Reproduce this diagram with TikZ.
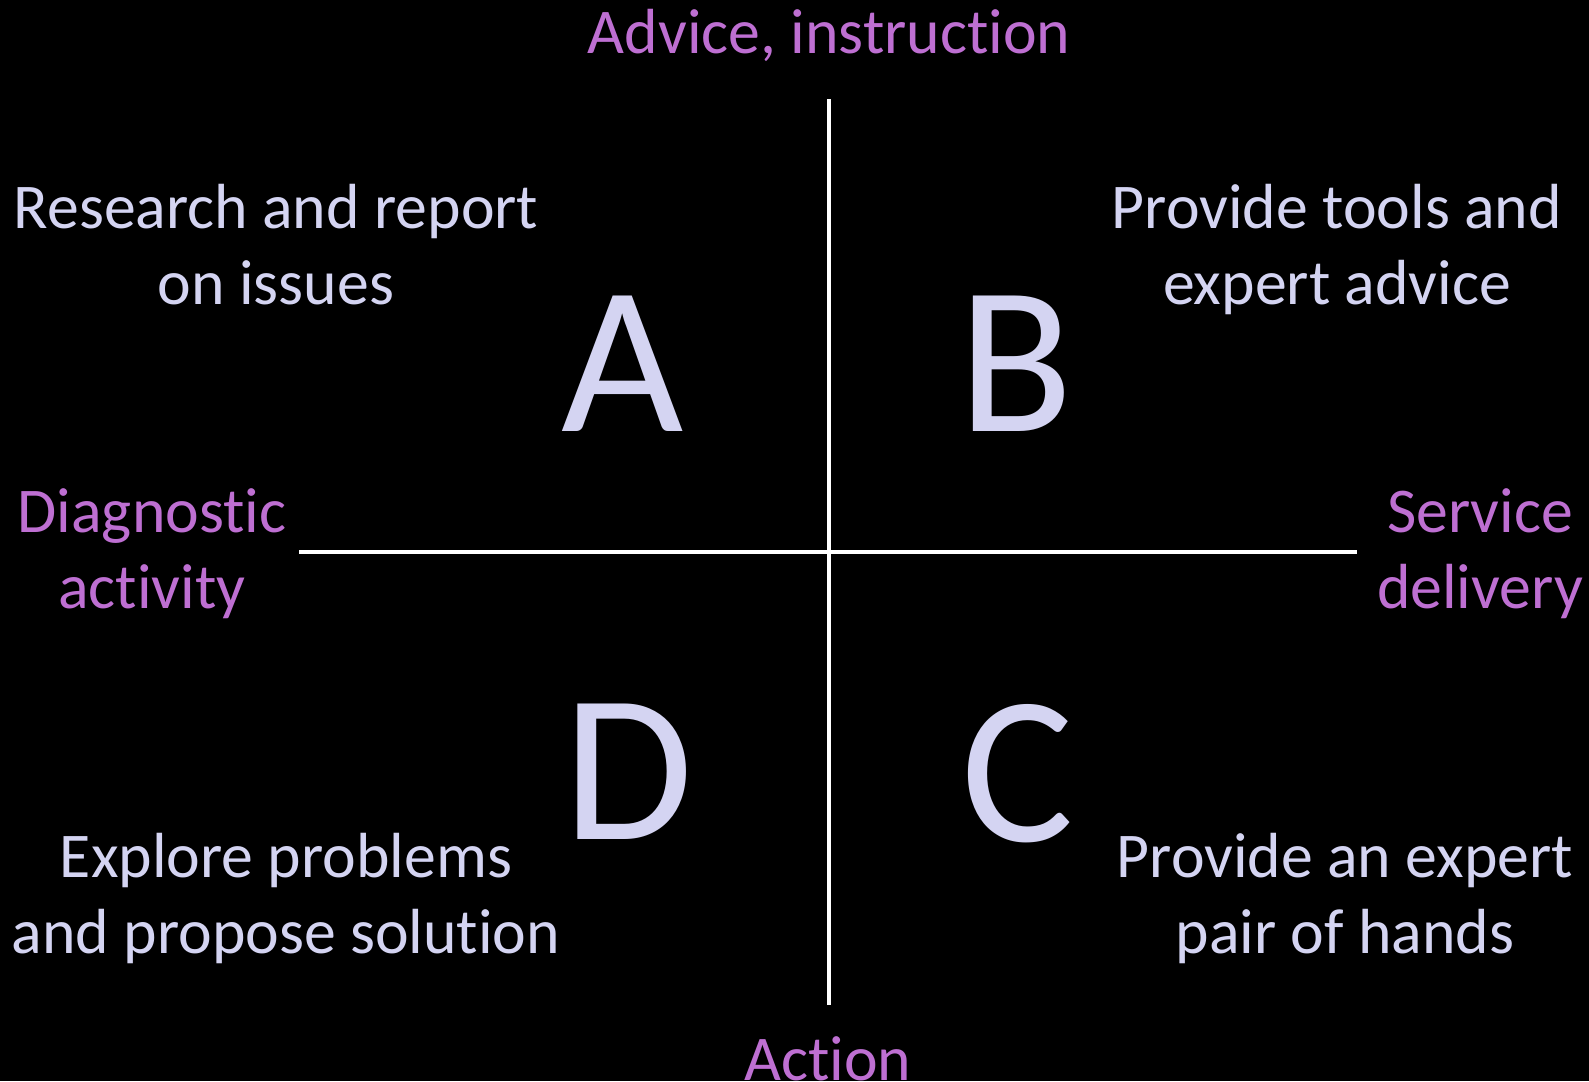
\documentclass[tikz,border=0pt]{standalone}
\usepackage{fontspec}
\setmainfont{Carlito}[Ligatures=NoCommon]
\definecolor{axisviolet}{HTML}{BE6FD2}
\definecolor{quadlilac}{HTML}{D4D4F2}
\begin{document}
\begin{tikzpicture}[x=1bp,y=-1bp,
  axislabel/.style={text=axisviolet,font=\fontsize{64}{76}\selectfont,align=center,anchor=base,inner sep=0pt},
  quadtext/.style={text=quadlilac,font=\fontsize{64}{76}\selectfont,align=center,anchor=base,inner sep=0pt},
  quadletter/.style={text=quadlilac,font=\fontsize{212}{212}\selectfont,anchor=base,inner sep=0pt},
  axisline/.style={draw=white,line width=4bp}]
\fill[black] (0,0) rectangle (1589,1081);
\useasboundingbox (0,0) rectangle (1589,1081);

\coordinate (top) at (829,99);
\coordinate (bottom) at (829,1005);
\coordinate (left) at (299,552);
\coordinate (right) at (1357,552);
\draw[axisline] (top) -- (bottom);
\draw[axisline] (left) -- (right);

% two-line nodes sit on the baseline of their last line
\node[axislabel] (advice) at (829,53) {Advice, instruction};
\node[axislabel] (action) at (828,1080) {Action};
\node[axislabel] (diagnostic) at (152,608) {Diagnostic\\activity};
\node[axislabel] (service) at (1480,608) {Service\\delivery};

\node[quadletter] (A) at (623,431) {A};
\node[quadletter] (B) at (1016,431) {B};
\node[quadletter] (C) at (1018,841) {C};
\node[quadletter] (D) at (628,839) {D};

\node[quadtext] (research) at (276,304) {Research and report\\on issues};
\node[quadtext] (tools) at (1337,304) {Provide tools and\\expert advice};
\node[quadtext] (explore) at (286,953) {Explore problems\\and propose solution};
\node[quadtext] (hands) at (1345,953) {Provide an expert\\pair of hands};
\end{tikzpicture}
\end{document}
